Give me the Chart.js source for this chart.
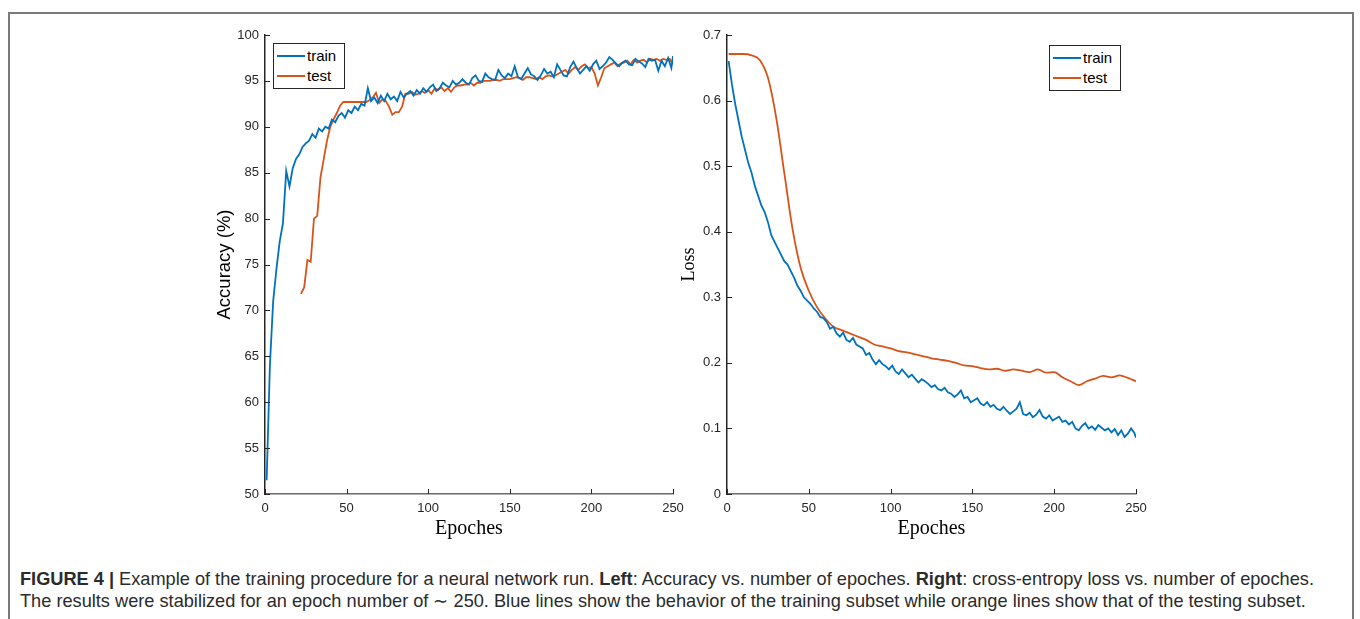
<!DOCTYPE html>
<html>
<head>
<meta charset="utf-8">
<style>
  html, body { margin: 0; padding: 0; background: #fff; }
  body { width: 1360px; height: 619px; position: relative; overflow: hidden; font-family: "Liberation Sans", Arial, sans-serif; }
  .frame { position: absolute; left: 8px; top: 12px; width: 1346px; height: 700px; border: 2px solid #7a7a7a; box-sizing: border-box; }
  .plot { position: absolute; top: 20px; width: 540px; height: 530px; }
  .legend { position: absolute; background: #fff; border: 1px solid #262626; font-size: 15px; color: #000; padding: 2px 4px 2px 3px; line-height: 20px; }
  .legend div { display: flex; align-items: center; }
  .legend span.sw { display: inline-block; width: 28px; height: 2px; margin-right: 2px; }
  .caption { position: absolute; left: 20px; top: 568px; width: 1330px; font-size: 18.2px; line-height: 22px; color: #2b2b2b; white-space: nowrap; }
</style>
</head>
<body>
<div class="frame"></div>
<div class="plot" style="left:160px"><canvas id="accChart"></canvas></div>
<div class="plot" style="left:640px"><canvas id="lossChart"></canvas></div>
<div class="legend" style="left:273px; top:43px; width:63px;">
  <div><span class="sw" style="background:#0072BD"></span>train</div>
  <div><span class="sw" style="background:#D95319"></span>test</div>
</div>
<div class="legend" style="left:1049px; top:45px; width:63px;">
  <div><span class="sw" style="background:#0072BD"></span>train</div>
  <div><span class="sw" style="background:#D95319"></span>test</div>
</div>
<div class="caption">
  <div><b>FIGURE 4 |</b> Example of the training procedure for a neural network run. <b>Left</b>: Accuracy vs. number of epoches. <b>Right</b>: cross-entropy loss vs. number of epoches.</div>
  <div>The results were stabilized for an epoch number of &#8764; 250. Blue lines show the behavior of the training subset while orange lines show that of the testing subset.</div>
</div>
<script src="https://cdn.jsdelivr.net/npm/chart.js"></script>
<script>
// epochs sampled every 2 for the noisy training curves
const trainEpochs = [];
for (let e = 1; e <= 249; e += 2) trainEpochs.push(e);
trainEpochs.push(250);

const trainAcc = [
  51.5, 64, 71, 74.5, 77.5, 79.5, 85.2, 83.5, 85.5, 86.5,
  87, 87.8, 88.2, 88.5, 89.2, 88.8, 89.8, 89.5, 90, 89.8,
  90.8, 90.5, 91.2, 91.5, 91, 91.8, 91.5, 92.2, 91.8, 92.5,
  92.3, 94.2, 92.8, 93.2, 92.6, 93.4, 92.8, 93.6, 93, 93.3,
  92.8, 93.8, 93.2, 93.6, 93.9, 93.4, 94, 93.6, 94.2, 93.8,
  94.3, 94.6, 93.9, 94.2, 94.8, 94.5, 94.3, 95, 94.6, 94.8,
  95.2, 94.8, 94.6, 95.3, 95.6, 95, 94.9, 95.8, 95.4, 95.2,
  95.1, 96.2, 95.6, 95.3, 95.8, 95.5, 96.6, 95.4, 95.2, 95.8,
  96.4, 95.7, 95.5, 95.1, 95.6, 96.3, 95.8, 96, 95.4, 96.8,
  96.2, 95.6, 95.5, 96.5, 97.1, 96.4, 95.8, 96.2, 96.6, 96.1,
  96.8, 97.2, 96.3, 96.6, 97, 97.6, 97.3, 96.9, 96.6, 97,
  97.2, 96.8, 96.7, 97.4, 97.1, 96.9, 96.5, 97.4, 97.2, 97.3,
  96.1, 97.2, 96.6, 97.5, 96.4, 97.7
];

// test accuracy starts at epoch 22, sampled every 2
const testEpochs = [];
for (let e = 22; e <= 250; e += 2) testEpochs.push(e);

const testAcc = [
  71.8, 72.5, 75.5, 75.3, 80, 80.3, 84.5, 86.5, 88.5, 90,
  90.8, 91.5, 92.3, 92.7, 92.7, 92.7, 92.7, 92.7, 92.7, 92.7,
  92.7, 92.9, 93.2, 93.7, 92.6, 93, 92.8, 92.2, 91.3, 91.6,
  91.6, 92.2, 93.6, 93.6, 93.8, 93.5, 93.6, 93.9, 93.7, 94,
  93.6, 94.2, 94, 94.3, 93.9, 94.2, 93.8, 94.3, 94.5, 94.5,
  94.6, 94.6, 94.8, 94.5, 94.8, 94.8, 95, 95, 95, 95.1,
  95.1, 95, 95.2, 95.2, 95.2, 95.3, 95.4, 95.3, 95.1, 95.4,
  95.4, 95.3, 95.2, 95.4, 95.2, 95.5, 95.6, 95.5, 95.6, 95.8,
  96, 96.2, 95.8, 96.2, 96.5, 96.2, 96.6, 96.8, 96.4, 96.5,
  95.8, 94.5, 95.4, 96.4, 96.6, 96.8, 97, 96.6, 96.9, 97,
  97.2, 96.8, 97.3, 97, 97.2, 97.3, 97, 97.4, 97.3, 97.4,
  97.2, 97.4, 97.3, 97.4, 96.8
];

const trainLoss = [
  0.66, 0.625, 0.595, 0.57, 0.545, 0.525, 0.505, 0.49, 0.47, 0.455,
  0.44, 0.43, 0.415, 0.395, 0.385, 0.375, 0.365, 0.355, 0.35, 0.34,
  0.33, 0.318, 0.31, 0.3, 0.295, 0.29, 0.283, 0.278, 0.27, 0.268,
  0.262, 0.252, 0.255, 0.245, 0.24, 0.246, 0.235, 0.232, 0.238, 0.228,
  0.225, 0.222, 0.212, 0.215, 0.205, 0.198, 0.204, 0.198, 0.195, 0.19,
  0.196, 0.187, 0.183, 0.19, 0.184, 0.178, 0.182, 0.176, 0.17, 0.175,
  0.172, 0.168, 0.163, 0.166, 0.16, 0.158, 0.162, 0.155, 0.153, 0.148,
  0.152, 0.158, 0.146, 0.148, 0.14, 0.143, 0.146, 0.138, 0.135, 0.14,
  0.133, 0.136, 0.13, 0.128, 0.133, 0.127, 0.122, 0.126, 0.13, 0.14,
  0.122, 0.12, 0.124, 0.117, 0.121, 0.128, 0.118, 0.115, 0.12, 0.112,
  0.115, 0.118, 0.11, 0.112, 0.106, 0.11, 0.1, 0.097, 0.104, 0.108,
  0.1, 0.103, 0.098, 0.105, 0.101, 0.097, 0.1, 0.094, 0.099, 0.09,
  0.097, 0.087, 0.092, 0.1, 0.093, 0.086
];

// test loss is smooth, read every 5 epochs
const lossEpochs = [1, 5, 10, 15, 20, 25, 30, 35, 40, 45, 50, 55, 60, 65, 70, 75, 80, 85, 90, 95,
  100, 105, 110, 115, 120, 125, 130, 135, 140, 145, 150, 155, 160, 165, 170, 175, 180, 185, 190, 195,
  200, 205, 210, 215, 220, 225, 230, 235, 240, 245, 250];
const testLoss = [
  0.671, 0.671, 0.671, 0.669, 0.662, 0.635, 0.575, 0.49, 0.405, 0.345,
  0.31, 0.285, 0.268, 0.255, 0.25, 0.245, 0.24, 0.235, 0.228, 0.225,
  0.222, 0.218, 0.216, 0.213, 0.21, 0.207, 0.205, 0.203, 0.2, 0.196,
  0.195, 0.192, 0.19, 0.191, 0.188, 0.19, 0.188, 0.186, 0.19, 0.185,
  0.186, 0.178, 0.172, 0.166, 0.172, 0.176, 0.18, 0.178, 0.181, 0.177,
  0.172
];

const accTicks = [50, 55, 60, 65, 70, 75, 80, 85, 90, 95, 100];
const lossTicks = [0, 0.1, 0.2, 0.3, 0.4, 0.5, 0.6, 0.7];
const epochTicks = [0, 50, 100, 150, 200, 250];

const BLUE = '#0072BD';
const ORANGE = '#D95319';
const AXIS = '#262626';

const pts = (xs, ys) => xs.map((x, i) => ({ x: x, y: ys[i] }));

// MATLAB style tick marks pointing into the axes
const inwardTicks = {
  id: 'inwardTicks',
  afterDatasetsDraw(chart) {
    const { ctx, chartArea, scales: { x, y } } = chart;
    ctx.save();
    ctx.strokeStyle = AXIS;
    ctx.lineWidth = 1;
    x.ticks.forEach(t => {
      const px = Math.round(x.getPixelForValue(t.value)) + 0.5;
      ctx.beginPath(); ctx.moveTo(px, chartArea.bottom); ctx.lineTo(px, chartArea.bottom - 5); ctx.stroke();
    });
    y.ticks.forEach(t => {
      const py = Math.round(y.getPixelForValue(t.value)) + 0.5;
      ctx.beginPath(); ctx.moveTo(chartArea.left, py); ctx.lineTo(chartArea.left + 5, py); ctx.stroke();
    });
    ctx.restore();
  }
};

function makeChart(id, sets, yMin, yMax, yTicks, yTitle, yFont, yWidth, yTitlePad, padRight) {
  return new Chart(document.getElementById(id), {
    type: 'line',
    data: { datasets: sets },
    options: {
      responsive: true,
      maintainAspectRatio: false,
      animation: false,
      layout: { padding: { top: 15, right: padRight, left: 0, bottom: 0 } },
      plugins: { legend: { display: false }, tooltip: { enabled: false } },
      elements: { point: { radius: 0 }, line: { borderWidth: 1.8 } },
      scales: {
        x: {
          type: 'linear', min: 0, max: 250,
          afterBuildTicks: s => { s.ticks = epochTicks.map(v => ({ value: v })); },
          afterFit: s => { s.height = 56; },
          grid: { display: false, drawTicks: false, tickLength: 0 },
          border: { display: true, color: '#6a6a6a', width: 1.5 },
          ticks: { color: AXIS, font: { family: 'Liberation Sans', size: 13 }, padding: 7, maxRotation: 0 },
          title: { display: true, text: 'Epoches', color: '#000', font: { family: 'Liberation Serif', size: 20 }, padding: { top: 0, bottom: 9 } }
        },
        y: {
          min: yMin, max: yMax,
          afterBuildTicks: s => { s.ticks = yTicks.map(v => ({ value: v })); },
          afterFit: s => { s.width = yWidth; },
          grid: { display: false, drawTicks: false, tickLength: 0 },
          border: { display: true, color: AXIS, width: 1.5 },
          ticks: { color: AXIS, font: { family: 'Liberation Sans', size: 13 }, padding: 6, callback: v => String(Math.round(v * 10) / 10) },
          title: { display: true, text: yTitle, color: '#000', font: yFont, padding: { top: yTitlePad, bottom: 0 } }
        }
      }
    },
    plugins: [inwardTicks]
  });
}

makeChart('accChart', [
  { label: 'train', data: pts(trainEpochs, trainAcc), borderColor: BLUE },
  { label: 'test', data: pts(testEpochs, testAcc), borderColor: ORANGE }
], 50, 100, accTicks, 'Accuracy (%)', { family: 'Liberation Sans', size: 18.5 }, 105, 54, 27);

makeChart('lossChart', [
  { label: 'train', data: pts(trainEpochs, trainLoss), borderColor: BLUE },
  { label: 'test', data: pts(lossEpochs, testLoss), borderColor: ORANGE, cubicInterpolationMode: 'monotone' }
], 0, 0.7, lossTicks, 'Loss', { family: 'Liberation Serif', size: 18 }, 87, 38, 44);
</script>
</body>
</html>
